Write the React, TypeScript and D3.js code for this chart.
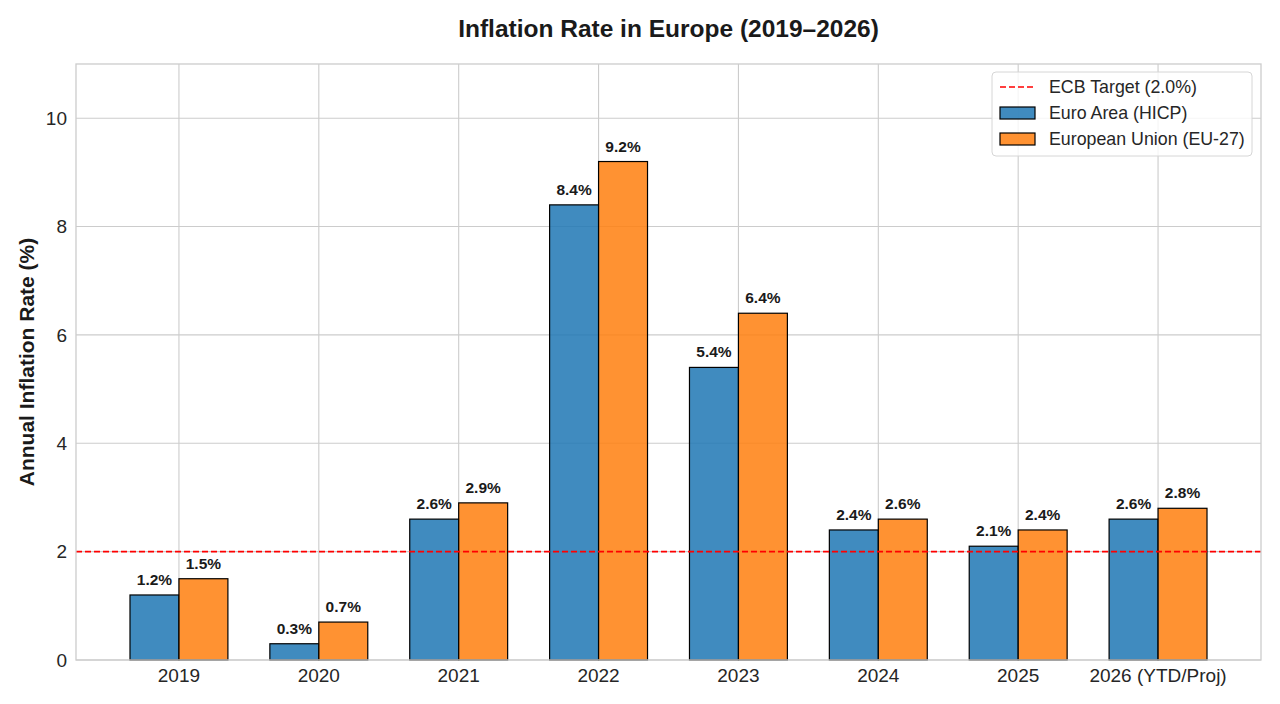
import React, { useEffect, useRef } from "react";
import * as d3 from "d3";

const years = ["2019", "2020", "2021", "2022", "2023", "2024", "2025", "2026 (YTD/Proj)"];
const euroArea = [1.2, 0.3, 2.6, 8.4, 5.4, 2.4, 2.1, 2.6];
const euUnion = [1.5, 0.7, 2.9, 9.2, 6.4, 2.6, 2.4, 2.8];
const yTicks = [0, 2, 4, 6, 8, 10];
const ecbTarget = 2.0;

const seriesNames = ["Euro Area (HICP)", "European Union (EU-27)"];
const seriesColors = ["#1f77b4", "#ff7f0e"];

const width = 1280;
const height = 704;
const margin = { top: 64, right: 19, bottom: 44, left: 76 };
const font = "'Liberation Sans', Arial, sans-serif";

const App: React.FC = () => {
  const svgRef = useRef<SVGSVGElement>(null);

  useEffect(() => {
    if (!svgRef.current) return;
    document.body.style.margin = "0";
    d3.select(svgRef.current).selectAll("*").remove();

    const innerWidth = width - margin.left - margin.right;
    const innerHeight = height - margin.top - margin.bottom;

    const svg = d3
      .select(svgRef.current)
      .attr("width", width)
      .attr("height", height)
      .style("display", "block")
      .style("font-family", font);

    const g = svg.append("g").attr("transform", `translate(${margin.left},${margin.top})`);

    // x is a continuous index scale like matplotlib's
    const x = d3.scaleLinear().domain([-0.736, 7.736]).range([0, innerWidth]);
    const y = d3.scaleLinear().domain([0, 11]).range([innerHeight, 0]);
    const barW = x(0.35) - x(0);

    // grid
    g.selectAll(".vgrid")
      .data(years)
      .enter()
      .append("line")
      .attr("x1", (_, i) => x(i))
      .attr("x2", (_, i) => x(i))
      .attr("y1", 0)
      .attr("y2", innerHeight)
      .attr("stroke", "#cccccc")
      .attr("stroke-width", 1.1);

    g.selectAll(".hgrid")
      .data(yTicks)
      .enter()
      .append("line")
      .attr("x1", 0)
      .attr("x2", innerWidth)
      .attr("y1", (d) => y(d))
      .attr("y2", (d) => y(d))
      .attr("stroke", "#cccccc")
      .attr("stroke-width", 1.1);

    // bars
    const series = [euroArea, euUnion];
    series.forEach((vals, s) => {
      g.selectAll(`.bar${s}`)
        .data(vals)
        .enter()
        .append("rect")
        .attr("x", (_, i) => (s === 0 ? x(i) - barW : x(i)))
        .attr("y", (d) => y(d))
        .attr("width", barW)
        .attr("height", (d) => innerHeight - y(d))
        .attr("fill", seriesColors[s])
        .attr("fill-opacity", 0.85)
        .attr("stroke", "#000")
        .attr("stroke-width", 1.2);

      g.selectAll(`.lbl${s}`)
        .data(vals)
        .enter()
        .append("text")
        .attr("x", (_, i) => (s === 0 ? x(i) - barW / 2 : x(i) + barW / 2))
        .attr("y", (d) => y(d) - 10)
        .attr("text-anchor", "middle")
        .style("font-size", "15.5px")
        .style("font-weight", "bold")
        .attr("fill", "#1a1a1a")
        .text((d) => `${d.toFixed(1)}%`);
    });

    // ECB target line
    g.append("line")
      .attr("x1", 0)
      .attr("x2", innerWidth)
      .attr("y1", y(ecbTarget))
      .attr("y2", y(ecbTarget))
      .attr("stroke", "#ff0000")
      .attr("stroke-width", 1.6)
      .attr("stroke-dasharray", "6,3");

    // frame
    g.append("rect")
      .attr("x", 0)
      .attr("y", 0)
      .attr("width", innerWidth)
      .attr("height", innerHeight)
      .attr("fill", "none")
      .attr("stroke", "#cccccc")
      .attr("stroke-width", 1.3);

    // tick labels
    g.selectAll(".xt")
      .data(years)
      .enter()
      .append("text")
      .attr("x", (_, i) => x(i))
      .attr("y", innerHeight + 22)
      .attr("text-anchor", "middle")
      .style("font-size", "19px")
      .attr("fill", "#262626")
      .text((d) => d);

    g.selectAll(".yt")
      .data(yTicks)
      .enter()
      .append("text")
      .attr("x", -9)
      .attr("y", (d) => y(d))
      .attr("dy", "0.35em")
      .attr("text-anchor", "end")
      .style("font-size", "19px")
      .attr("fill", "#262626")
      .text((d) => d);

    // title
    svg.append("text")
      .attr("x", margin.left + innerWidth / 2)
      .attr("y", 37)
      .attr("text-anchor", "middle")
      .style("font-size", "24.5px")
      .style("font-weight", "bold")
      .attr("fill", "#1a1a1a")
      .text("Inflation Rate in Europe (2019–2026)");

    // y label
    svg.append("text")
      .attr("transform", `translate(34,${margin.top + innerHeight / 2}) rotate(-90)`)
      .attr("text-anchor", "middle")
      .style("font-size", "21px")
      .style("font-weight", "bold")
      .attr("fill", "#1a1a1a")
      .text("Annual Inflation Rate (%)");

    // legend
    const lg = svg.append("g").attr("transform", "translate(992,72)");
    lg.append("rect")
      .attr("width", 260)
      .attr("height", 84)
      .attr("rx", 4)
      .attr("fill", "#fff")
      .attr("fill-opacity", 0.8)
      .attr("stroke", "#d6d6d6");

    lg.append("line")
      .attr("x1", 8)
      .attr("x2", 43)
      .attr("y1", 15)
      .attr("y2", 15)
      .attr("stroke", "#ff0000")
      .attr("stroke-width", 1.6)
      .attr("stroke-dasharray", "6,3");
    lg.append("text")
      .attr("x", 57)
      .attr("y", 15)
      .attr("dy", "0.35em")
      .style("font-size", "17.8px")
      .attr("fill", "#262626")
      .text(`ECB Target (${ecbTarget.toFixed(1)}%)`);

    seriesNames.forEach((name, s) => {
      const cy = 41 + s * 26;
      lg.append("rect")
        .attr("x", 8)
        .attr("y", cy - 6)
        .attr("width", 35)
        .attr("height", 12)
        .attr("fill", seriesColors[s])
        .attr("fill-opacity", 0.85)
        .attr("stroke", "#000")
        .attr("stroke-width", 1.2);
      lg.append("text")
        .attr("x", 57)
        .attr("y", cy)
        .attr("dy", "0.35em")
        .style("font-size", "17.8px")
        .attr("fill", "#262626")
        .text(name);
    });
  }, []);

  return <svg ref={svgRef}></svg>;
};

export default App;
